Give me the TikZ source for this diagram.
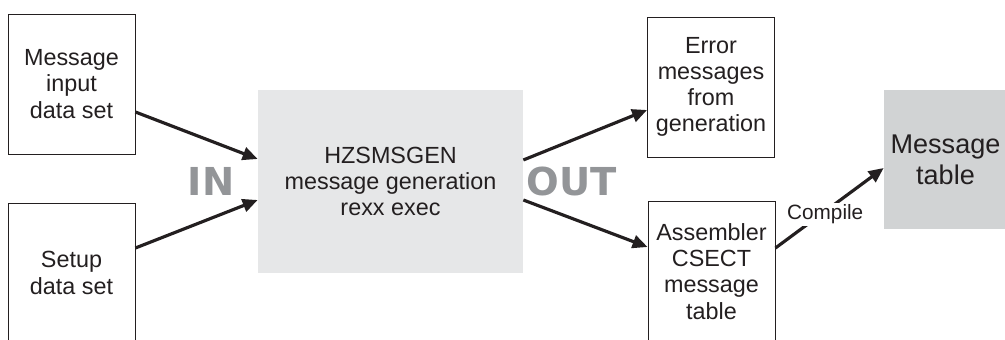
\documentclass[tikz,border=0pt]{standalone}
\usepackage{fontspec}
\setmainfont{Liberation Sans}
\newfontfamily\heavyfont{DejaVu Sans}
\usetikzlibrary{arrows.meta}
\definecolor{procgray}{HTML}{E6E7E8}
\definecolor{tablegray}{HTML}{D1D3D4}
\definecolor{wordgray}{HTML}{939598}
\definecolor{ink}{HTML}{231F20}

\begin{document}
\begin{tikzpicture}[
    databox/.style={draw=ink, line width=0.5pt, minimum width=2.54cm, minimum height=2.8cm,
      inner sep=0pt, align=center, text=ink, font=\fontsize{13.3}{14.9}\selectfont},
    flow/.style={draw=ink, line width=1.8pt, -{Triangle[length=0.3cm, width=0.26cm]}},
    bigword/.style={text=wordgray, font=\heavyfont\bfseries\fontsize{21.9}{22}\selectfont}
  ]
    \useasboundingbox (0,0) rectangle (20.1,6.78);

    % inputs
    \node[databox] (msgin) at (1.43,5.10) {Message\\input\\data set};
    \node[databox] (setup) at (1.43,1.32) {Setup\\data set};

    % the exec
    \node[fill=procgray, minimum width=5.3cm, minimum height=3.66cm, align=center, text=ink,
      font=\fontsize{13.3}{14.9}\selectfont] (gen) at (7.81,3.15)
      {HZSMSGEN\\message generation\\rexx exec};

    % outputs
    \node[databox] (errs) at (14.22,5.04) {Error\\messages\\from\\generation};
    \node[databox] (asm) at (14.23,1.35) {Assembler\\CSECT\\message\\table};
    \node[fill=tablegray, minimum width=2.46cm, minimum height=2.78cm, align=center, text=ink,
      font=\fontsize{15.4}{17.6}\selectfont] (msgtab) at (18.91,3.59) {Message\\table};

    \node[bigword] (in) at (4.22,3.16) {IN};
    \node[bigword] (out) at (11.44,3.16) {OUT};

    \draw[flow] ([yshift=-0.56cm]msgin.east) -- ([yshift=0.45cm]gen.west);
    \draw[flow] ([yshift=0.5cm]setup.east) -- ([yshift=-0.37cm]gen.west);
    \draw[flow] ([yshift=0.43cm]gen.east) -- ([yshift=-0.46cm]errs.west);
    \draw[flow] ([yshift=-0.37cm]gen.east) -- ([yshift=0.49cm]asm.west);
    \draw[flow] ([yshift=0.47cm]asm.east) -- node[pos=0.46, yshift=-0.06cm, fill=white, inner sep=1pt,
      text=ink, font=\fontsize{11.8}{13}\selectfont] (compile) {Compile} ([yshift=-0.17cm]msgtab.west);
  \end{tikzpicture}
\end{document}
